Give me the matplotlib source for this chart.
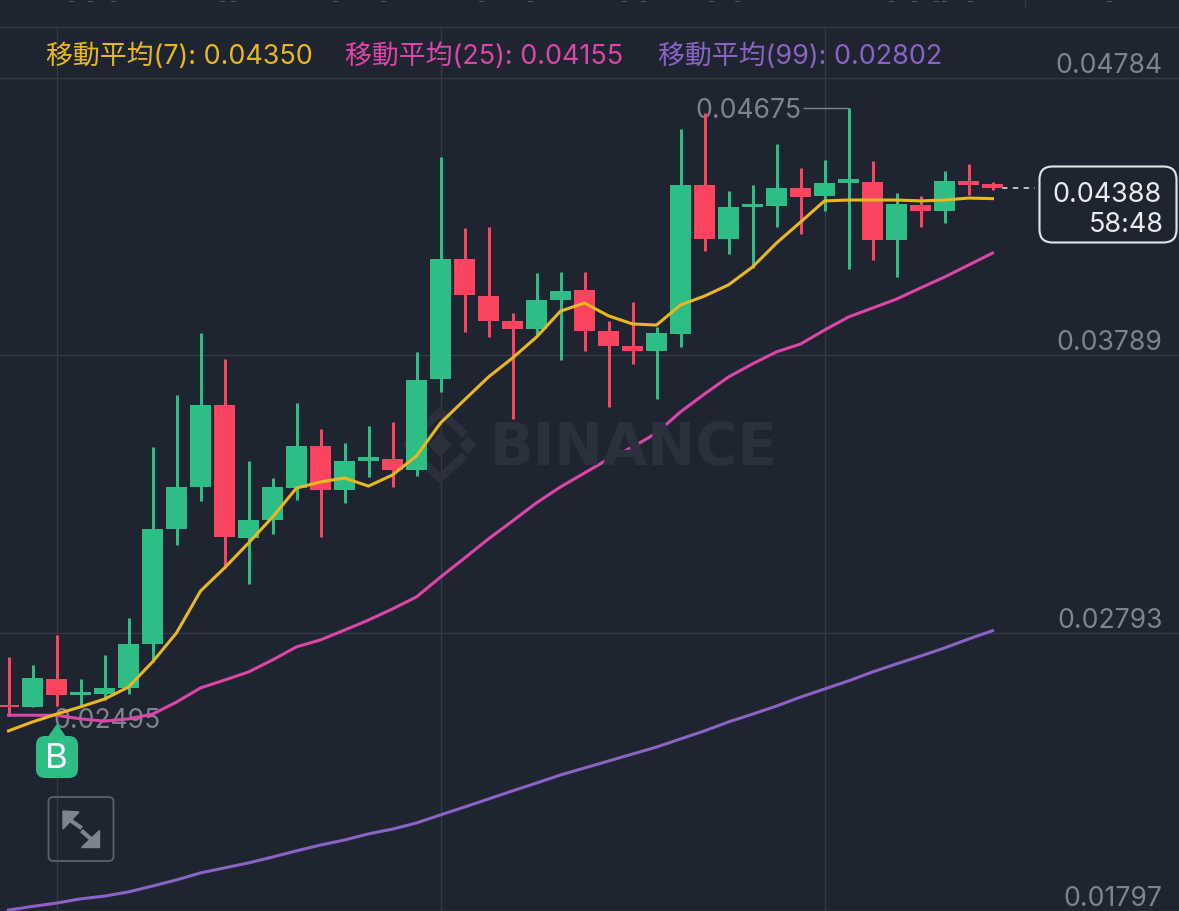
import matplotlib
matplotlib.use('Agg')
import matplotlib.pyplot as plt
from matplotlib.lines import Line2D
from matplotlib.patches import FancyBboxPatch, Polygon

plt.rcParams['font.family'] = ['Inter', 'Noto Sans CJK TC', 'DejaVu Sans']

opens = [0.02536, 0.02529, 0.02629, 0.02572, 0.02575, 0.02597, 0.02754, 0.03166, 0.03317, 0.03611, 0.03134, 0.03199, 0.03313, 0.03464,
         0.03306, 0.03410, 0.03417, 0.03378, 0.03704, 0.04134, 0.04001, 0.03912, 0.03883, 0.03987, 0.04023, 0.03876, 0.03822, 0.03804,
         0.03865, 0.04399, 0.04205, 0.04320, 0.04324, 0.04388, 0.04359, 0.04406, 0.04410, 0.04202, 0.04327, 0.04306, 0.04413, 0.04402]
highs = [0.02708, 0.02679, 0.02787, 0.02629, 0.02715, 0.02847, 0.03460, 0.03646, 0.03869, 0.03775, 0.03410, 0.03349, 0.03618, 0.03525,
         0.03474, 0.03535, 0.03550, 0.03801, 0.04499, 0.04245, 0.04248, 0.03940, 0.04084, 0.04087, 0.04087, 0.03912, 0.03980, 0.03890,
         0.04600, 0.04657, 0.04377, 0.04399, 0.04546, 0.04460, 0.04488, 0.04675, 0.04485, 0.04370, 0.04359, 0.04449, 0.04474, 0.04410]
lows = [0.02495, 0.02528, 0.02532, 0.02532, 0.02554, 0.02575, 0.02690, 0.03109, 0.03267, 0.03027, 0.02969, 0.03148, 0.03270, 0.03138,
        0.03260, 0.03353, 0.03317, 0.03356, 0.03657, 0.03872, 0.03854, 0.03560, 0.03861, 0.03772, 0.03804, 0.03603, 0.03758, 0.03632,
        0.03818, 0.04162, 0.04152, 0.04102, 0.04248, 0.04223, 0.04306, 0.04098, 0.04130, 0.04069, 0.04248, 0.04263, 0.04363, 0.04381]
closes = [0.02529, 0.02632, 0.02572, 0.02582, 0.02597, 0.02754, 0.03166, 0.03317, 0.03611, 0.03138, 0.03199, 0.03317, 0.03464, 0.03306,
          0.03410, 0.03424, 0.03378, 0.03700, 0.04134, 0.04005, 0.03912, 0.03883, 0.03987, 0.04019, 0.03876, 0.03822, 0.03804, 0.03869,
          0.04399, 0.04205, 0.04320, 0.04331, 0.04388, 0.04356, 0.04406, 0.04420, 0.04202, 0.04331, 0.04306, 0.04413, 0.04399, 0.04388]

ma7 = [0.02443, 0.02475, 0.02503, 0.02529, 0.02557, 0.02600, 0.02690, 0.02794, 0.02944, 0.03027, 0.03116, 0.03209, 0.03313, 0.03335,
       0.03349, 0.03320, 0.03360, 0.03428, 0.03546, 0.03629, 0.03711, 0.03779, 0.03854, 0.03947, 0.03976, 0.03930, 0.03901, 0.03897,
       0.03969, 0.04001, 0.04041, 0.04105, 0.04191, 0.04266, 0.04342, 0.04345, 0.04345, 0.04345, 0.04342, 0.04345, 0.04352, 0.04350]
ma25 = [0.02499, 0.02499, 0.02499, 0.02486, 0.02478, 0.02486, 0.02503, 0.02546, 0.02597, 0.02625, 0.02654, 0.02697, 0.02744, 0.02769,
        0.02804, 0.02840, 0.02880, 0.02923, 0.02994, 0.03062, 0.03131, 0.03195, 0.03260, 0.03317, 0.03367, 0.03417, 0.03460, 0.03510,
        0.03586, 0.03650, 0.03711, 0.03758, 0.03801, 0.03829, 0.03879, 0.03926, 0.03958, 0.03990, 0.04030, 0.04069, 0.04112, 0.04155]
ma99 = [0.01801, 0.01814, 0.01826, 0.01841, 0.01851, 0.01866, 0.01887, 0.01909, 0.01934, 0.01952, 0.01970, 0.01991, 0.02013, 0.02034,
        0.02052, 0.02074, 0.02091, 0.02113, 0.02142, 0.02170, 0.02199, 0.02228, 0.02256, 0.02285, 0.02310, 0.02335, 0.02360, 0.02385,
        0.02414, 0.02443, 0.02475, 0.02503, 0.02532, 0.02564, 0.02593, 0.02622, 0.02654, 0.02683, 0.02711, 0.02740, 0.02772, 0.02802]

price_ticks = [0.04784, 0.03789, 0.02793, 0.01797]
grid_candles = [2, 18, 34]

ma_labels = ['移動平均(7): 0.04350', '移動平均(25): 0.04155', '移動平均(99): 0.02802']

BG = '#1f2530'
GRID = '#333a46'
GREY = '#7d8490'
GREEN = '#2ebd85'
RED = '#fb4560'
YELLOW = '#eab71f'
PINK = '#dd45a8'
PURPLE = '#8a63c4'
WATERMARK = '#2b313c'

W, H = 1179, 911

fig = plt.figure(figsize=(W / 100, H / 100), dpi=100, facecolor=BG)
ax = fig.add_axes([0, 0, 1, 1], facecolor=BG)
ax.set_xlim(-8.5 / 24, (W - 8.5) / 24)
ax.set_ylim(0.017976, 0.050617)
ax.axis('off')


def fx(x):
    return x / W


def fy(y):
    return 1 - y / H


def ftext(x, y, s, **kw):
    fig.text(fx(x), fy(y), s, **kw)


# grid
for p in price_ticks:
    ax.axhline(p, color=GRID, lw=1, zorder=1)
for c in grid_candles:
    ax.axvline(c, ymax=fy(27), color=GRID, lw=1, zorder=1)
fig.add_artist(Line2D([0, 1], [fy(27), fy(27)], color=GRID, lw=1, zorder=0))
fig.add_artist(Line2D([fx(1025), fx(1025)], [fy(0), fy(7)], color=GRID, lw=1, zorder=0))

# bottoms of the cropped toolbar above the chart
for sx in [71, 90, 113, 222, 233, 335, 383, 481, 530, 624, 643, 711, 737, 891, 914, 936, 944, 970, 1109]:
    fig.add_artist(Line2D([fx(sx - 2), fx(sx + 2)], [fy(0.5), fy(0.5)], color='#4a505c', lw=0.8, zorder=0))

# price scale labels sit just above their grid line
for p in price_ticks:
    ax.annotate(f'{p:.5f}', xy=(1162.5 / W, p), xycoords=ax.get_yaxis_transform(), xytext=(0, 8.6),
                textcoords='offset points', ha='right', va='center', color=GREY, fontsize=19.1, zorder=2)

# watermark
ftext(490, 449, 'BINANCE', color=WATERMARK, fontsize=41.5, fontweight='bold', family='DejaVu Sans',
      va='center', ha='left', zorder=1.5)
for cx, cy, r in [(440, 445, 11), (412, 445, 8), (468, 445, 8)]:
    ax.add_patch(Polygon([(fx(cx - r), fy(cy)), (fx(cx), fy(cy - r)), (fx(cx + r), fy(cy)), (fx(cx), fy(cy + r))],
                         transform=ax.transAxes, color=WATERMARK, zorder=1.5))
ax.plot([fx(418), fx(440), fx(462)], [fy(432), fy(412), fy(432)], transform=ax.transAxes, color=WATERMARK, lw=6, zorder=1.5,
        solid_joinstyle='miter')
ax.plot([fx(418), fx(440), fx(462)], [fy(458), fy(478), fy(458)], transform=ax.transAxes, color=WATERMARK, lw=6, zorder=1.5,
        solid_joinstyle='miter')

# extreme labels, drawn under the candles
ax.annotate(f'{lows[0]:.5f}', xy=(160.5 / W, lows[0]), xycoords=ax.get_yaxis_transform(), xytext=(0, -3),
            textcoords='offset points', ha='right', va='center', color=GREY, fontsize=19.1, zorder=2)
ax.annotate(f'{highs[35]:.5f}', xy=(35, highs[35]), xytext=(-33.5, -2), textcoords='offset points',
            ha='right', va='center', color=GREY, fontsize=19.1, zorder=2)
ax.hlines(highs[35], 35 - 46 / 24, 35, color=GREY, lw=1, zorder=2)

# candles
for i in range(len(opens)):
    color = GREEN if closes[i] >= opens[i] else RED
    ax.vlines(i, lows[i], highs[i], color=color, lw=2.2, zorder=3)
    ax.bar(i, abs(closes[i] - opens[i]), bottom=min(opens[i], closes[i]), width=0.875, color=color, linewidth=0, zorder=3)

# moving averages
x = list(range(len(ma7)))
ax.plot(x, ma99, color=PURPLE, lw=2.2, zorder=4)
ax.plot(x, ma25, color=PINK, lw=2.2, zorder=4)
ax.plot(x, ma7, color=YELLOW, lw=2.2, zorder=5)

# last price
ax.plot([41.4, 42.75], [closes[-1], closes[-1]], color='#c9ccd2', lw=1.3, dashes=(3, 3), zorder=2)
fig.add_artist(FancyBboxPatch((1039.5, 911 - 242.5), 137, 76, boxstyle='round,pad=0,rounding_size=13', transform=None,
                              fc=BG, ec='#e3e5e8', lw=1.5, zorder=6))
ftext(1162, 195, f'{closes[-1]:.5f}', ha='right', va='center', color='#eaecef', fontsize=19.4, zorder=7)
ftext(1164, 225, '58:48', ha='right', va='center', color='#eaecef', fontsize=19.4, zorder=7)

# moving average legend
for lx, label, color in zip([46, 345, 658], ma_labels, [YELLOW, PINK, PURPLE]):
    ftext(lx, 57, label, ha='left', va='center', color=color, fontsize=19.4, zorder=7)

# buy marker
fig.add_artist(Polygon([(fx(48), fy(738)), (fx(57), fy(725)), (fx(66), fy(738))], transform=fig.transFigure, color=GREEN, zorder=7))
fig.add_artist(FancyBboxPatch((36, 911 - 778), 42, 42, boxstyle='round,pad=0,rounding_size=9', transform=None,
                              fc=GREEN, ec='none', zorder=7))
ftext(56.5, 759, 'B', ha='center', va='center', color='white', fontsize=25, zorder=8)

# expand button
fig.add_artist(FancyBboxPatch((48.5, 911 - 861), 65, 64, boxstyle='round,pad=0,rounding_size=5', transform=None,
                              fc='none', ec='#5c626d', lw=1.3, zorder=7))
fig.add_artist(Polygon([(fx(63), fy(811)), (fx(79), fy(812)), (fx(63), fy(829))], transform=fig.transFigure, color=GREY, zorder=8))
fig.add_artist(Polygon([(fx(99), fy(830)), (fx(99), fy(847)), (fx(81), fy(847))], transform=fig.transFigure, color=GREY, zorder=8))
fig.add_artist(Line2D([fx(70), fx(80)], [fy(820), fy(827)], color=GREY, lw=3, zorder=8))
fig.add_artist(Line2D([fx(83), fx(92)], [fy(832), fy(840)], color=GREY, lw=3, zorder=8))

fig.savefig('out.png', dpi=100, facecolor=BG)
